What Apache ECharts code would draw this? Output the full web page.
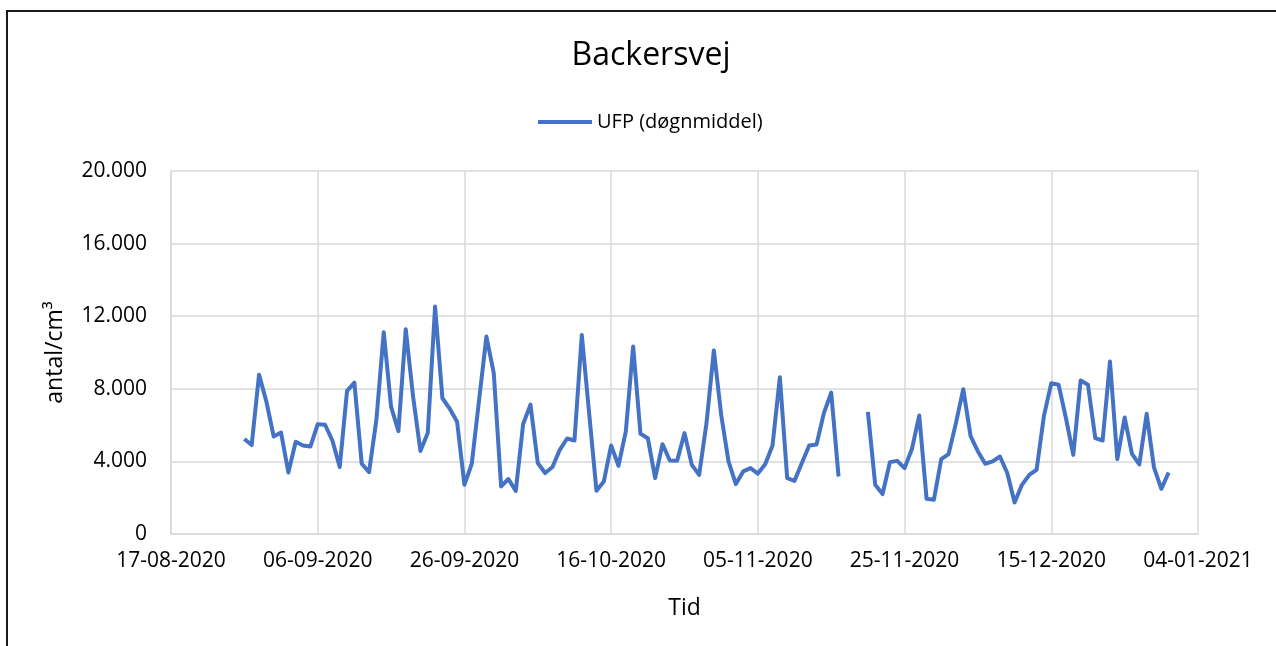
<!DOCTYPE html>
<html>
<head>
<meta charset="utf-8">
<script src="https://cdn.jsdelivr.net/npm/echarts@6/dist/echarts.min.js"></script>
<style>
html,body{margin:0;padding:0;background:#fff;}
#chart{width:1276px;height:646px;}
</style>
</head>
<body>
<div id="chart"></div>
<script>
// ---- data ----
const chartTitle = 'Backersvej';
const seriesName = 'UFP (døgnmiddel)';
const axisStartDate = '2020-08-17';
const axisEndDate = '2021-01-04';
const firstDataDate = '2020-08-27';
// daily means, one value per consecutive day starting at firstDataDate (null = missing)
const ufpValues = [
  5230, 4900, 8780, 7300, 5370, 5590, 3390, 5080, 4880, 4820,
  6050, 6020, 5150, 3690, 7890, 8340, 3870, 3410, 6290, 11120,
  7020, 5670, 11280, 7570, 4570, 5560, 12530, 7480, 6900, 6180,
  2710, 3870, 7390, 10880, 8860, 2620, 3030, 2370, 6050, 7130,
  3910, 3360, 3690, 4640, 5260, 5150, 10970, 6660, 2380, 2890,
  4880, 3760, 5650, 10330, 5520, 5280, 3080, 4950, 4050, 4030,
  5560, 3810, 3260, 6110, 10110, 6570, 4000, 2750, 3450, 3630,
  3330, 3840, 4880, 8640, 3080, 2930, 3910, 4880, 4930, 6660,
  7790, 3170, null, null, null, 6730, 2710, 2200, 3960, 4030,
  3630, 4680, 6530, 1940, 1890, 4130, 4400, 6110, 7980, 5390,
  4550, 3870, 4000, 4270, 3360, 1740, 2710, 3260, 3540, 6510,
  8310, 8220, 6380, 4360, 8460, 8220, 5280, 5150, 9500, 4130,
  6420, 4420, 3830, 6620, 3670, 2490, 3390
];
const yTicks = [0, 4000, 8000, 12000, 16000, 20000];
const xAxisName = 'Tid';
const yAxisName = 'antal/cm³';

// ---- helpers ----
const DAY = 86400000;
function utc(s){ const p = s.split('-').map(Number); return Date.UTC(p[0], p[1]-1, p[2]); }
const t0 = utc(axisStartDate);
const spanDays = Math.round((utc(axisEndDate) - t0) / DAY);
const firstOffset = Math.round((utc(firstDataDate) - t0) / DAY);
const seriesData = ufpValues.map((v, i) => [firstOffset + i, v]);
function pad(n){ return (n < 10 ? '0' : '') + n; }
function fmtDate(off){
  const d = new Date(t0 + off * DAY);
  return pad(d.getUTCDate()) + '-' + pad(d.getUTCMonth()+1) + '-' + d.getUTCFullYear();
}
function fmtNum(v){ return String(v).replace(/\B(?=(\d{3})+(?!\d))/g, '.'); }

const FONT = '"Open Sans", sans-serif';
const chart = echarts.init(document.getElementById('chart'), null, {renderer: 'canvas'});
chart.setOption({
  backgroundColor: '#ffffff',
  animation: false,
  title: {
    text: chartTitle,
    left: 646, textAlign: 'center',
    top: 35,
    textStyle: {fontFamily: FONT, fontSize: 32, fontWeight: 'normal', color: '#000'}
  },
  legend: {
    left: 533, top: 107,
    itemWidth: 54, itemHeight: 14, itemGap: 10,
    textStyle: {fontFamily: FONT, fontSize: 20, color: '#000', padding: [0,0,0,0]},
    data: [{name: seriesName, icon: 'path://M0,0 L54,0 L54,4 L0,4 Z'}]
  },
  graphic: [{
    type: 'rect', silent: true, z: -1,
    shape: {x: 7, y: 11, width: 1300, height: 700},
    style: {fill: 'none', stroke: '#1a1a1a', lineWidth: 2}
  }],
  grid: {left: 171, right: 78, top: 171, bottom: 112},
  xAxis: {
    type: 'value', min: 0, max: spanDays, interval: 20,
    name: xAxisName, nameLocation: 'middle', nameGap: 63,
    nameTextStyle: {fontFamily: FONT, fontSize: 23, color: '#000'},
    axisLine: {show: true, lineStyle: {color: '#d9d9d9', width: 1.5}},
    axisTick: {show: false},
    splitLine: {show: true, lineStyle: {color: '#d9d9d9', width: 1.5}},
    axisLabel: {fontFamily: FONT, fontSize: 21, color: '#000', margin: 17, formatter: fmtDate, showMinLabel: true, showMaxLabel: true}
  },
  yAxis: {
    type: 'value', min: yTicks[0], max: yTicks[yTicks.length-1], interval: yTicks[1]-yTicks[0],
    name: yAxisName, nameLocation: 'middle', nameGap: 104, nameRotate: 90,
    nameTextStyle: {fontFamily: FONT, fontSize: 23, color: '#000'},
    axisLine: {show: true, lineStyle: {color: '#d9d9d9', width: 1.5}},
    axisTick: {show: false},
    splitLine: {show: true, lineStyle: {color: '#d9d9d9', width: 1.5}},
    axisLabel: {fontFamily: FONT, fontSize: 21, color: '#000', margin: 24, formatter: fmtNum}
  },
  series: [{
    name: seriesName, type: 'line', data: seriesData,
    symbol: 'none', connectNulls: false,
    lineStyle: {color: '#4472C4', width: 4, join: 'round'},
    itemStyle: {color: '#4472C4'}
  }]
});
</script>
</body>
</html>
